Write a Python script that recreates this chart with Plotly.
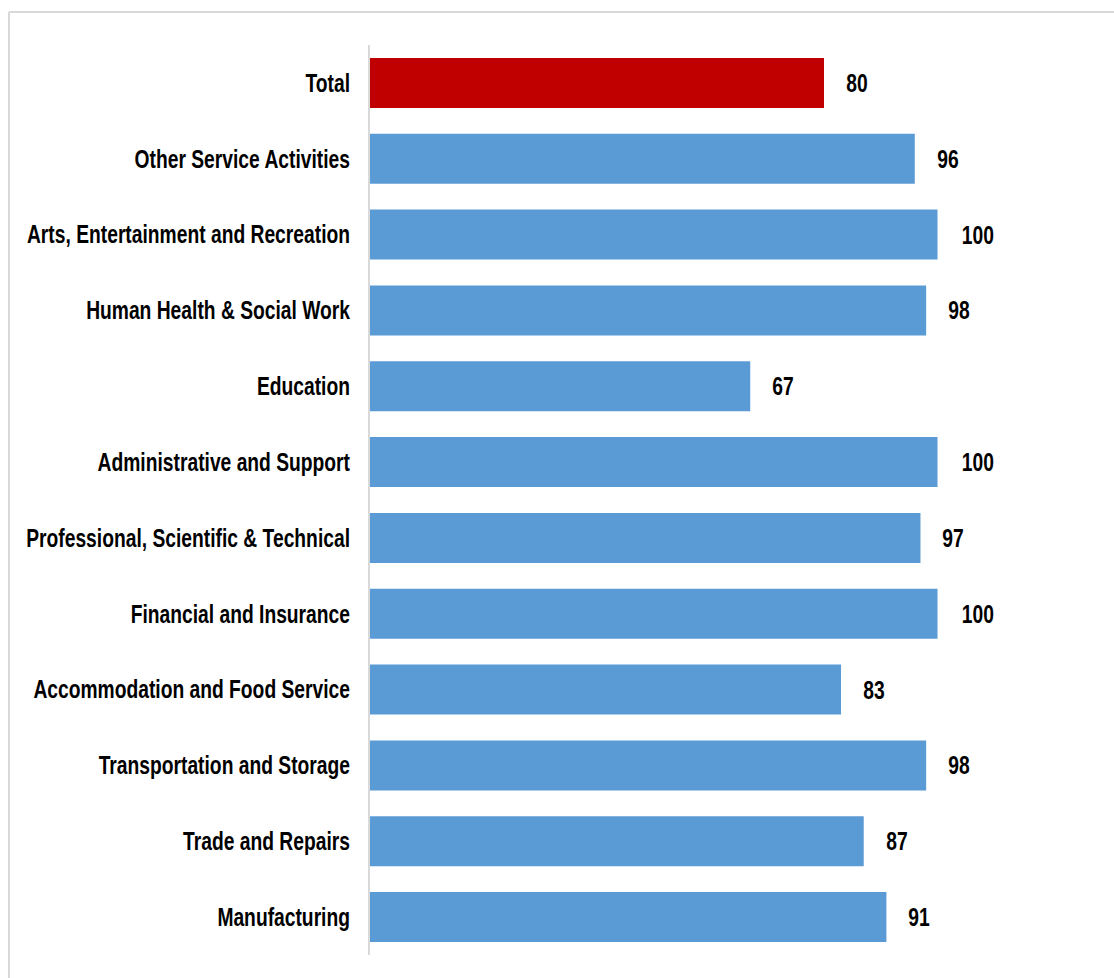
import plotly.graph_objects as go

# Sector categories, top to bottom as displayed
categories = [
    "Total",
    "Other Service Activities",
    "Arts, Entertainment and Recreation",
    "Human Health & Social Work",
    "Education",
    "Administrative and Support",
    "Professional, Scientific & Technical",
    "Financial and Insurance",
    "Accommodation and Food Service",
    "Transportation and Storage",
    "Trade and Repairs",
    "Manufacturing",
]
values = [80, 96, 100, 98, 67, 100, 97, 100, 83, 98, 87, 91]

RED = "#C00000"
BLUE = "#5B9BD5"
colors = [RED if c == "Total" else BLUE for c in categories]

W, H = 1114, 978
FONT = "Liberation Sans, Arial, sans-serif"
FSIZE = 25
SQUEEZE = 0.77  # horizontal condensing of label glyphs

# plot area in pixels
x_left, x_right = 370, 1051
y_top, y_bottom = 45, 955

fig = go.Figure(
    go.Bar(
        x=values,
        y=categories,
        orientation="h",
        marker=dict(color=colors, line=dict(width=0)),
        hoverinfo="x+y",
    )
)

# value labels just beyond each bar end
for cat, val in zip(categories, values):
    fig.add_annotation(
        x=val, y=cat, xref="x", yref="y",
        text=str(val), showarrow=False,
        xanchor="left", xshift=17,
        font=dict(family=FONT, size=FSIZE, color="#000000", weight=700),
    )

# light frame (top and left edges)
fig.add_shape(type="line", xref="paper", yref="paper",
              x0=9 / W, x1=1.0, y0=1 - 12 / H, y1=1 - 12 / H,
              line=dict(color="#d9d9d9", width=2))
fig.add_shape(type="line", xref="paper", yref="paper",
              x0=9 / W, x1=9 / W, y0=0, y1=1 - 12 / H,
              line=dict(color="#d9d9d9", width=2))

fig.update_layout(
    width=W, height=H,
    margin=dict(l=0, r=0, t=0, b=0, autoexpand=False),
    paper_bgcolor="white", plot_bgcolor="white",
    bargap=0.34,
    showlegend=False,
    xaxis=dict(
        domain=[x_left / W, x_right / W],
        range=[0, 120], visible=False, fixedrange=True,
        automargin=False,
    ),
    yaxis=dict(
        domain=[1 - y_bottom / H, 1 - y_top / H],
        categoryorder="array", categoryarray=categories[::-1],
        range=[-0.5, len(categories) - 0.5],
        showline=True, linecolor="#d9d9d9", linewidth=2,
        showgrid=False, ticks="", zeroline=False,
        automargin=False,
        ticklabelstandoff=13,
        tickfont=dict(family=FONT, size=FSIZE, color="#000000", weight=700),
    ),
)

# condense the label glyphs horizontally (narrow bold face look)
condense_js = """
var gd = document.getElementById('{plot_id}');
function condense() {
  var nodes = gd.querySelectorAll('.ytick text, text.annotation-text');
  nodes.forEach(function (t) {
    t.removeAttribute('textLength');
    var w = t.getComputedTextLength();
    t.setAttribute('textLength', (w * %s).toFixed(2));
    t.setAttribute('lengthAdjust', 'spacingAndGlyphs');
  });
}
condense();
gd.on('plotly_afterplot', condense);
""" % SQUEEZE

fig.write_html("out.html", post_script=condense_js)
